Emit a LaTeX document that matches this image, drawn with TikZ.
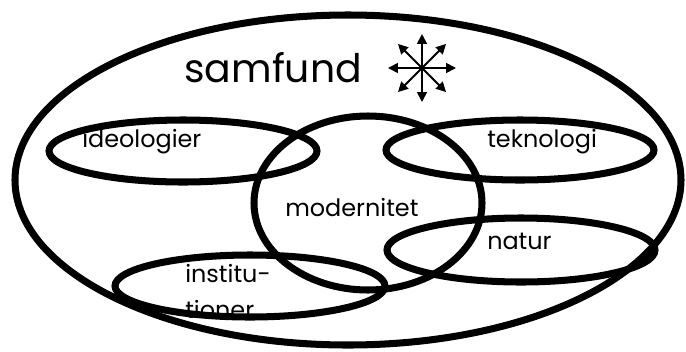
\documentclass[tikz,border=0pt]{standalone}
\usepackage{fontspec}
\setmainfont{Poppins}
\usetikzlibrary{arrows.meta,calc}

\tikzset{
  ring/.style={line width=5pt},
  lbl/.style={font=\fontsize{17}{25}\selectfont, inner sep=0pt, anchor=base west, align=left},
  starrow/.style={line width=1.3pt, -{Triangle[length=7pt,width=7pt]}}
}

\begin{document}
\begin{tikzpicture}[x=0.025cm,y=-0.025cm]
                        \useasboundingbox (0,0) rectangle (686,351);

                        % Rings
                        \draw[ring] (348,180) ellipse [x radius=333, y radius=165];
                        \draw[ring] (183,151) ellipse [x radius=134, y radius=31];
                        \draw[ring] (520,150) ellipse [x radius=134, y radius=30];
                        \draw[ring] (521,250) ellipse [x radius=134, y radius=32];
                        \draw[ring] (250,286) ellipse [x radius=135, y radius=31];
                        \draw[ring] (368,203) ellipse [x radius=114, y radius=87];

                        % Labels
                        \node[font=\fontsize{28}{30}\selectfont, inner sep=0pt, anchor=base west] (samfund) at (184,82) {samfund};
                        \node[lbl] (ideologier) at (82,147) {ideologier};
                        \node[lbl] (teknologi) at (487,147) {teknologi};
                        \node[lbl] (modernitet) at (285,216) {modernitet};
                        \node[lbl] (natur) at (487,249) {natur};
                        \node[lbl] (institutioner) at (185,318) {institu-\\tioner};

                        % Star
                        \coordinate (hub) at (422,68);
                        \foreach \a in {0,45,...,315}
                            \coordinate (tip\a) at ($(hub)+(\a:34)$);
                        \foreach \a in {0,45,...,315}
                            \draw[starrow] (hub) -- (tip\a);
                    \end{tikzpicture}
\end{document}
